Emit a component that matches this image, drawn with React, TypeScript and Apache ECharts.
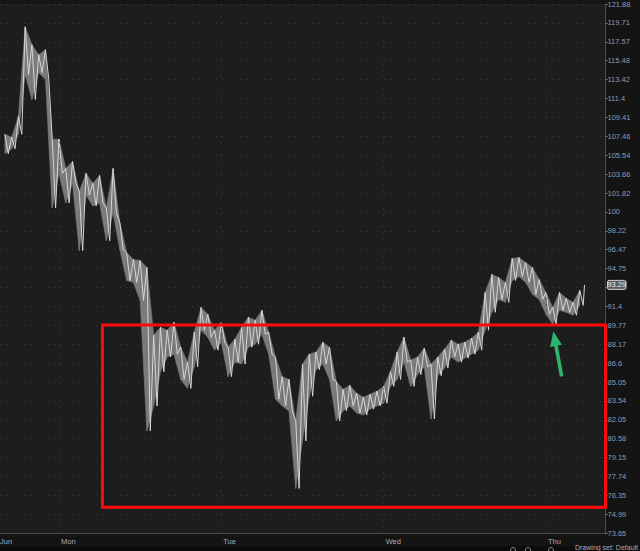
import React, { useEffect, useRef } from "react";
import * as echarts from "echarts";

// price scale: each tick is one step of this ratio (log-like scale centred on 100)
const STEP_RATIO = 1.01815;
const TICK_LABELS = [
  "73.65", "74.99", "76.35", "77.74", "79.15", "80.58", "82.05", "83.54", "85.05", "86.6",
  "88.17", "89.77", "91.4", "93.06", "94.75", "96.47", "98.22", "100", "101.82", "103.66",
  "105.54", "107.46", "109.41", "111.4", "113.42", "115.48", "117.57", "119.71", "121.88",
];
const TICK_MIN = -17; // index of first tick label relative to 100
const TICK_MAX = 11;

// hours counted from Monday 00:00
const DAY_HOURS = [0, 24, 48, 72];
const DAY_LABELS = ["Mon", "Tue", "Wed", "Thu"];
const X_MIN = -8.72;
const X_MAX = 80.8;

// hourly bars, first bar at START_HOUR
const START_HOUR = -8;
const HIGHS = [
  107.67, 107.36, 109.51, 119.26, 117.24, 116.14, 116.69, 107.17,
  107.17, 104.22, 104.91, 101.99, 103.73, 102.76, 103.53, 100.38, 104.22, 98.97, 96.2, 95.57,
  95.48, 94.84, 88.93, 89.6, 89.35, 90.03, 87.92, 86.68, 89.18, 91.31, 90.71, 89.35,
  90.03, 87.92, 88.59, 89.6, 90.46, 90.2, 91.06, 89.18, 87.1, 85.49, 85.26, 81.96, 86.52, 87.34,
  87.51, 88.34, 87.92, 85.1, 84.46, 84.78, 84.15, 83.83,
  84.07, 84.31, 84.7, 85.89, 87.51, 88.76, 86.85, 87.1, 87.84, 86.52, 87.1, 87.76, 88.51, 88.17,
  88.34, 88.68, 89.18, 92.62, 94.22, 93.95, 93.51, 95.66, 95.75, 95.29, 94.84, 93.77,
  92.62, 91.31, 92.62, 92.1, 91.75, 92.8,
];
const LOWS = [
  105.7, 106.19, 107.67, 113.96, 111.3, 114.18, 113.42, 100.38,
  103.73, 100.85, 102.76, 96.38, 101.61, 100.57, 100.85, 97.3, 99.91, 96.47, 93.68, 93.51,
  91.92, 81.19, 83.13, 85.89, 87.1, 87.34, 85.26, 84.54, 86.28, 89.35, 88.76, 87.67,
  88.34, 85.49, 86.68, 86.52, 87.92, 88.17, 89.01, 87.34, 83.68, 83.13, 82.74, 76.86, 80.42, 83.91,
  86.05, 86.52, 85.26, 81.96, 82.74, 83.13, 82.58, 82.42,
  82.89, 83.13, 83.36, 84.7, 85.26, 86.68, 84.7, 85.65, 86.28, 82.11, 85.57, 86.2, 87.1, 86.68,
  87.01, 87.34, 87.67, 89.35, 90.89, 92.01, 91.75, 93.68, 94.04, 93.51, 92.45, 92.01,
  90.71, 89.86, 91.06, 90.89, 90.63, 91.49,
];
const LAST_HOUR = 77.7;
const LAST_PRICE = 93.29;

// annotations
const BOX_START_HOUR = 6.43;
const BOX_TOP_PRICE = 89.8;
const BOX_BOTTOM_PRICE = 75.5;
const ARROW_TIP = [73.08, 89.27];
const ARROW_TAIL = [74.32, 85.51];

const toK = (p: number) => Math.log(p / 100) / Math.log(STEP_RATIO);

export default function App() {
  const ref = useRef<HTMLDivElement>(null);

  useEffect(() => {
    if (!ref.current) return;
    const chart = echarts.init(ref.current, null, { renderer: "svg" });
    const hours = HIGHS.map((_, i) => START_HOUR + i);
    const zig: number[][] = [];
    hours.forEach((h, i) => {
      zig.push([h, toK(HIGHS[i])]);
      zig.push([h + 0.5, toK(LOWS[i])]);
    });
    zig.push([LAST_HOUR, toK(LAST_PRICE)]);
    const band = hours.slice(0, -1).map((h, i) => [
      h, toK(HIGHS[i]), toK(LOWS[i]), h + 1, toK(HIGHS[i + 1]), toK(LOWS[i + 1]),
    ]);
    const lastTickIndex = Math.round(toK(LAST_PRICE)); // covered by the last-price box

    const labelFont = "'Liberation Sans Narrow', 'Liberation Sans', sans-serif";
    const dotted = { color: "#3a3a3a", type: [1, 5] as any, width: 1 };

    chart.setOption({
      animation: false,
      backgroundColor: "#141414",
      grid: {
        left: 0,
        right: 34.5,
        top: -0.77,
        bottom: 17.8,
        show: true,
        backgroundColor: "#1d1d1d",
        borderWidth: 0,
      },
      xAxis: {
        type: "value",
        min: X_MIN,
        max: X_MAX,
        axisLine: { show: true, onZero: false, lineStyle: { color: "#4a4a4a" } },
        axisTick: { show: false, customValues: DAY_HOURS },
        axisLabel: {
          customValues: DAY_HOURS,
          color: "#a3abb6",
          fontSize: 7.5,
          fontFamily: labelFont,
          align: "left",
          margin: 4,
          padding: [0, 0, 0, 2],
          formatter: (v: number) => {
            const i = DAY_HOURS.indexOf(v);
            return i >= 0 ? DAY_LABELS[i] : "";
          },
        },
        splitLine: { show: false },
      },
      yAxis: {
        type: "value",
        position: "right",
        min: TICK_MIN,
        max: TICK_MAX,
        interval: 1,
        axisLine: { show: true, onZero: false, lineStyle: { color: "#4a4a4a" } },
        axisTick: { show: true, length: 2, lineStyle: { color: "#7a8594" } },
        axisLabel: {
          color: "#8d9bb0",
          fontSize: 7.5,
          fontFamily: labelFont,
          margin: 2,
          showMinLabel: true,
          showMaxLabel: true,
          formatter: (v: number) =>
            Math.round(v) === lastTickIndex ? "" : TICK_LABELS[Math.round(v) - TICK_MIN] ?? "",
        },
        splitLine: { show: true, lineStyle: dotted },
      },
      series: [
        {
          type: "custom",
          data: band,
          silent: true,
          encode: { x: [0, 3], y: [1, 2, 4, 5] },
          renderItem: (_params: any, api: any) => {
            const a = api.coord([api.value(0), api.value(1)]);
            const b = api.coord([api.value(3), api.value(4)]);
            const c = api.coord([api.value(3), api.value(5)]);
            const d = api.coord([api.value(0), api.value(2)]);
            return {
              type: "polygon",
              shape: { points: [a, b, c, d] },
              style: { fill: "#7b7b7b", stroke: "#7b7b7b", lineWidth: 0.6 },
            };
          },
        },
        {
          type: "line",
          data: zig,
          symbol: "none",
          lineStyle: { color: "#d6d6d6", width: 1 },
          silent: true,
          markLine: {
            silent: true,
            symbol: "none",
            label: { show: false },
            lineStyle: dotted,
            data: DAY_HOURS.map((h) => ({ xAxis: h })),
          },
        },
      ],
    });

    const pix = (h: number, p: number) =>
      chart.convertToPixel({ seriesIndex: 1 }, [h, toK(p)]) as number[];

    const tl = pix(BOX_START_HOUR, BOX_TOP_PRICE);
    const br = pix(X_MAX, BOX_BOTTOM_PRICE);
    const T = pix(ARROW_TIP[0], ARROW_TIP[1]);
    const S = pix(ARROW_TAIL[0], ARROW_TAIL[1]);
    const dx = T[0] - S[0];
    const dy = T[1] - S[1];
    const len = Math.hypot(dx, dy);
    const ux = dx / len, uy = dy / len;
    const nx = -uy, ny = ux;
    const headLen = 15, headHalf = 6, shaftHalf = 1.8;
    const B = [T[0] - ux * headLen, T[1] - uy * headLen];
    const arrowPts = [
      [S[0] + nx * shaftHalf, S[1] + ny * shaftHalf],
      [B[0] + nx * shaftHalf, B[1] + ny * shaftHalf],
      [B[0] + nx * headHalf, B[1] + ny * headHalf],
      [T[0], T[1]],
      [B[0] - nx * headHalf, B[1] - ny * headHalf],
      [B[0] - nx * shaftHalf, B[1] - ny * shaftHalf],
      [S[0] - nx * shaftHalf, S[1] - ny * shaftHalf],
    ];
    const last = pix(LAST_HOUR, LAST_PRICE);

    chart.setOption({
      graphic: [
        {
          type: "rect",
          z: 50,
          shape: { x: tl[0], y: tl[1], width: br[0] - tl[0], height: br[1] - tl[1] },
          style: { fill: "none", stroke: "#ff0a0a", lineWidth: 3 },
        },
        {
          type: "polygon",
          z: 50,
          shape: { points: arrowPts },
          style: { fill: "#2fb46e" },
        },
        {
          type: "group",
          z: 60,
          x: 607.5,
          y: last[1],
          children: [
            {
              type: "rect",
              shape: { x: 0, y: -4.5, width: 18.5, height: 9, r: 1.5 },
              style: { fill: "#5c5c5c", stroke: "#cfcfcf", lineWidth: 1 },
            },
            {
              type: "text",
              x: 9.25,
              y: 0,
              style: {
                text: LAST_PRICE.toFixed(2),
                fill: "#f0f0f0",
                fontSize: 7.5,
                fontFamily: labelFont,
                align: "center",
                verticalAlign: "middle",
              },
            },
          ],
        },
        {
          type: "text",
          z: 40,
          x: 0,
          y: 541,
          style: {
            text: "Jun",
            fill: "#a3abb6",
            fontSize: 7.5,
            fontFamily: labelFont,
            verticalAlign: "middle",
          },
        },
        {
          type: "rect",
          z: 40,
          shape: { x: 0, y: 546, width: 640, height: 5 },
          style: { fill: "#0b0b0b" },
        },
        {
          type: "text",
          z: 41,
          x: 575,
          y: 543.5,
          style: {
            text: "Drawing set: Default",
            fill: "#b0b0b0",
            fontSize: 7,
            fontFamily: labelFont,
            verticalAlign: "top",
          },
        },
        ...[513, 528, 551].map((cx) => ({
          type: "circle",
          z: 41,
          shape: { cx, cy: 550, r: 2.5 },
          style: { fill: "none", stroke: "#8a8a8a", lineWidth: 1 },
        })),
      ],
    });

    return () => chart.dispose();
  }, []);

  return (
    <div
      ref={ref}
      style={{ position: "fixed", left: 0, top: 0, width: 640, height: 551 }}
    />
  );
}
